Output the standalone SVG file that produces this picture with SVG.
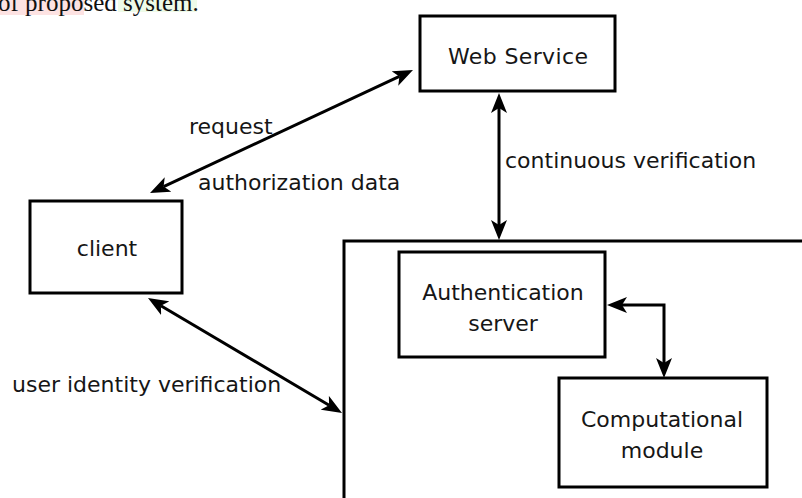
<svg xmlns="http://www.w3.org/2000/svg" width="802" height="498" viewBox="0 0 802 498">
  <style>
    .box { fill: #fff; stroke: #000; stroke-width: 3; }
    .frame { fill: none; stroke: #000; stroke-width: 3; }
    .edge { fill: none; stroke: #000; stroke-width: 3; }
    .lbl { font-family: "DejaVu Sans", Verdana, sans-serif; font-size: 22px; fill: #161616; }
    .mid { text-anchor: middle; }
    .cap { font-family: "Liberation Serif", "Times New Roman", serif; font-size: 25px; fill: #111; }
  </style>
  <defs>
    <marker id="arrow" viewBox="0 0 20 16" refX="5" refY="8" markerWidth="20" markerHeight="16" markerUnits="userSpaceOnUse" orient="auto-start-reverse">
      <path d="M0,0 L20,8 L0,16 L5,8 Z" fill="#000"/>
    </marker>
  </defs>
  <rect width="802" height="498" fill="#fff"/>

  <!-- caption fragment at top -->
  <g id="caption">
    <rect x="0" y="0" width="84" height="15" fill="#fde2e2"/>
    <rect x="118" y="0" width="79" height="12" fill="#eefbe8"/>
    <text class="cap" x="-2" y="11">of proposed system.</text>
  </g>

  <!-- server-side frame -->
  <g id="system-frame">
    <path class="frame" d="M805,241 H344 V502"/>
  </g>

  <g id="web-service">
    <rect class="box" x="420" y="16" width="195" height="75"/>
    <text class="lbl mid" x="518" y="64" textLength="140">Web Service</text>
  </g>

  <g id="client">
    <rect class="box" x="30" y="201" width="152" height="92"/>
    <text class="lbl mid" x="107" y="256">client</text>
  </g>

  <g id="auth-server">
    <rect class="box" x="399" y="252" width="206" height="105"/>
    <text class="lbl mid" x="503" y="300">Authentication</text>
    <text class="lbl mid" x="503" y="331">server</text>
  </g>

  <g id="computational-module">
    <rect class="box" x="559" y="378" width="208" height="109"/>
    <text class="lbl mid" x="662" y="427">Computational</text>
    <text class="lbl mid" x="662" y="458">module</text>
  </g>

  <g id="connectors">
    <line class="edge" x1="163.6" y1="186.6" x2="399.4" y2="76.4" marker-start="url(#arrow)" marker-end="url(#arrow)"/>
    <line class="edge" x1="499" y1="108" x2="499" y2="225" marker-start="url(#arrow)" marker-end="url(#arrow)"/>
    <line class="edge" x1="160.9" y1="305.7" x2="329.1" y2="405.3" marker-start="url(#arrow)" marker-end="url(#arrow)"/>
    <path class="edge" d="M622,305 H664 V363" marker-start="url(#arrow)" marker-end="url(#arrow)"/>
  </g>

  <g id="labels">
    <text class="lbl" x="189" y="134">request</text>
    <text class="lbl" x="198" y="190">authorization data</text>
    <text class="lbl" x="505" y="168">continuous verification</text>
    <text class="lbl" x="12" y="392">user identity verification</text>
  </g>
</svg>
